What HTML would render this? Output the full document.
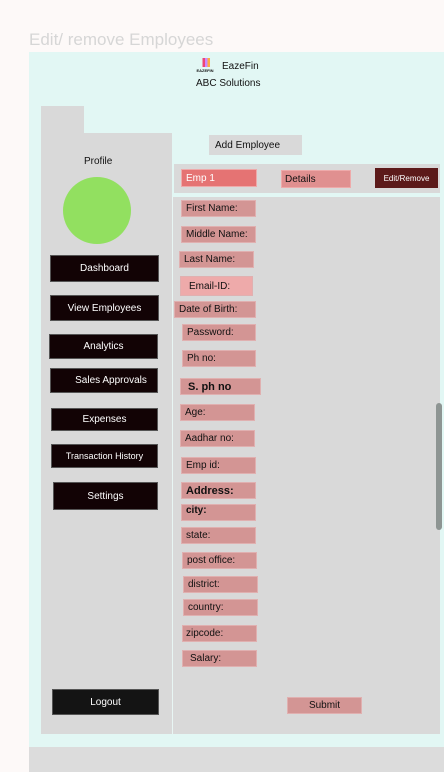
<!DOCTYPE html>
<html><head><meta charset="utf-8"><style>
*{margin:0;padding:0;box-sizing:border-box}
body{width:444px;height:772px;background:#fdf9f8;position:relative;overflow:hidden;font-family:"Liberation Sans",sans-serif;color:#111}
.a{position:absolute}
.btn{position:absolute;background:#120305;color:#fff;font-size:10px;display:flex;align-items:center;justify-content:center;border:1px solid #555}
.f{position:absolute;background:#d39594;font-size:10px;padding-left:4px;display:flex;align-items:center;border:1px solid #e0b0b0;color:#111}
</style></head><body>
<div class="a" style="left:29px;top:30px;font-size:17px;color:#d6d6d6">Edit/ remove Employees</div>
<div class="a" style="left:29px;top:52px;width:415px;height:695px;background:#e2f7f4"></div>
<div class="a" style="left:29px;top:747px;width:415px;height:25px;background:#dcdcdc"></div>
<div class="a" style="left:193px;top:58px;width:24px;height:16px;font-size:4px;font-weight:bold;text-align:center;padding-top:10px;background:linear-gradient(90deg,transparent 40%,#e47 40%,#e47 50%,#c8f 50%,#c8f 60%,#fa4 60%,#fa4 70%,transparent 70%) no-repeat 0 0/24px 9px">EAZEFIN</div>
<div class="a" style="left:222px;top:61px;font-size:10px">EazeFin</div>
<div class="a" style="left:196px;top:78px;font-size:10px">ABC Solutions</div>
<div class="a" style="left:41px;top:106px;width:43px;height:28px;background:#d9d9d9"></div>
<div class="a" style="left:41px;top:133px;width:131px;height:601px;background:#d9d9d9"></div>
<div class="a" style="left:172px;top:197px;width:268px;height:537px;background:#d9d9d9;border-left:1px solid #e8f6f4"></div>
<div class="a" style="left:174px;top:164px;width:266px;height:29px;background:#d9d9d9"></div>
<div class="a" style="left:209px;top:135px;width:93px;height:20px;background:#d9d9d9;font-size:10px;display:flex;align-items:center;padding-left:6px">Add Employee</div>
<div class="a" style="left:181px;top:169px;width:76px;height:18px;background:#e57373;color:#fff;font-size:10px;padding:3px 0 0 4px;border:1px solid #eaa">Emp 1</div>
<div class="a" style="left:281px;top:170px;width:70px;height:18px;background:#e09090;font-size:10px;padding:3px 0 0 3px;border:1px solid #eaa">Details</div>
<div class="a" style="left:375px;top:168px;width:63px;height:20px;background:#5c1a1a;color:#fff;font-size:8px;display:flex;align-items:center;justify-content:center">Edit/Remove</div>
<div class="a" style="left:84px;top:156px;font-size:10px">Profile</div>
<div class="a" style="left:63px;top:177px;width:68px;height:67px;border-radius:50%;background:#92e060"></div>
<div class="btn" style="left:50px;top:255px;width:109px;height:27px">Dashboard</div>
<div class="btn" style="left:50px;top:295px;width:109px;height:26px">View Employees</div>
<div class="btn" style="left:49px;top:334px;width:109px;height:25px">Analytics</div>
<div class="btn" style="left:50px;top:368px;width:108px;height:25px;padding-left:14px">Sales Approvals</div>
<div class="btn" style="left:51px;top:408px;width:107px;height:23px">Expenses</div>
<div class="btn" style="left:51px;top:444px;width:107px;height:24px;font-size:9px">Transaction History</div>
<div class="btn" style="left:53px;top:482px;width:105px;height:28px">Settings</div>
<div class="btn" style="left:52px;top:689px;width:107px;height:26px;background:#141414">Logout</div>
<div class="f" style="left:181px;top:200px;width:75px;height:17px">First Name:</div>
<div class="f" style="left:181px;top:226px;width:75px;height:17px">Middle Name:</div>
<div class="f" style="left:179px;top:251px;width:75px;height:17px">Last Name:</div>
<div class="f" style="left:180px;top:276px;width:73px;height:20px;background:#eeaaaa;padding-left:8px">Email-ID:</div>
<div class="f" style="left:174px;top:301px;width:82px;height:17px">Date of Birth:</div>
<div class="f" style="left:182px;top:324px;width:74px;height:17px">Password:</div>
<div class="f" style="left:182px;top:350px;width:74px;height:17px">Ph no:</div>
<div class="f" style="left:180px;top:378px;width:81px;height:17px;font-weight:bold;font-size:11px;padding-left:7px">S. ph no</div>
<div class="f" style="left:180px;top:404px;width:75px;height:17px">Age:</div>
<div class="f" style="left:180px;top:430px;width:75px;height:17px">Aadhar no:</div>
<div class="f" style="left:181px;top:457px;width:75px;height:17px">Emp id:</div>
<div class="f" style="left:181px;top:482px;width:75px;height:17px;font-weight:bold;font-size:11px">Address:</div>
<div class="f" style="left:181px;top:504px;width:75px;height:17px;font-weight:bold;align-items:flex-start">city:</div>
<div class="f" style="left:181px;top:527px;width:75px;height:17px">state:</div>
<div class="f" style="left:182px;top:552px;width:75px;height:17px">post office:</div>
<div class="f" style="left:183px;top:576px;width:75px;height:17px">district:</div>
<div class="f" style="left:183px;top:599px;width:75px;height:17px">country:</div>
<div class="f" style="left:182px;top:625px;width:75px;height:17px;padding-left:3px">zipcode:</div>
<div class="f" style="left:182px;top:650px;width:75px;height:17px;padding-left:7px">Salary:</div>
<div class="f" style="left:287px;top:697px;width:75px;height:17px;justify-content:center;padding-left:0">Submit</div>
<div class="a" style="left:436px;top:403px;width:6px;height:127px;background:#8e9593;border-radius:3px"></div>
</body></html>
